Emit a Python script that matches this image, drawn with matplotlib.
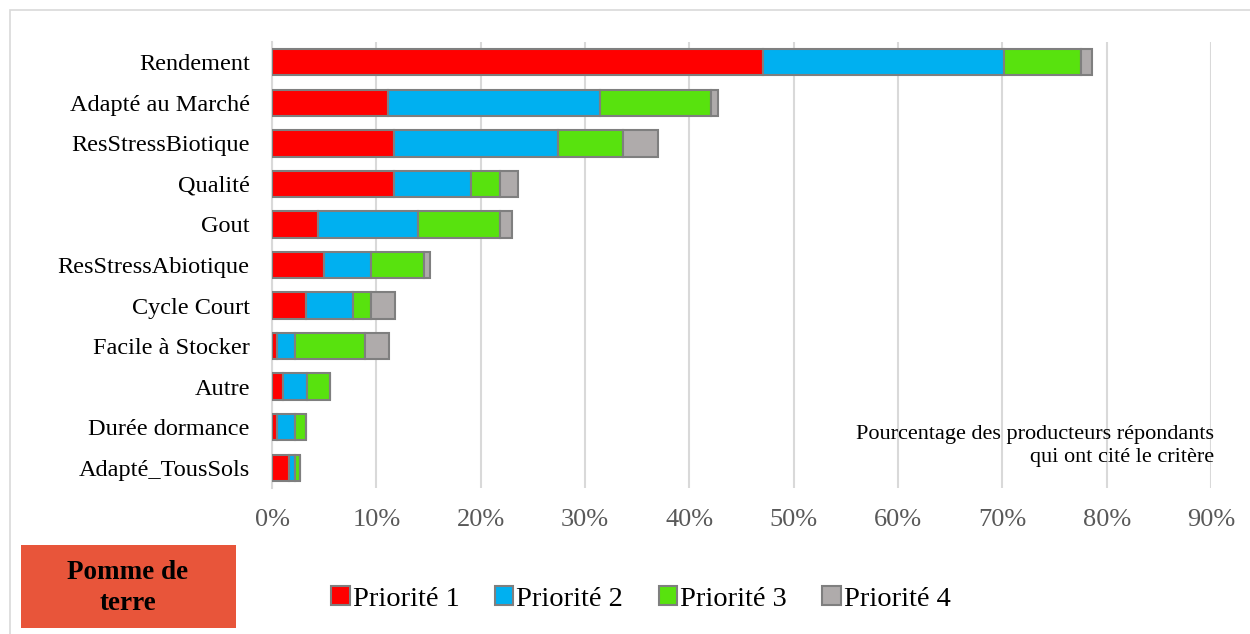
import matplotlib.pyplot as plt
from matplotlib.patches import Rectangle

plt.rcParams["font.family"] = ["Liberation Serif", "DejaVu Serif"]

criteres = ["Rendement", "Adapté au Marché", "ResStressBiotique", "Qualité", "Gout",
            "ResStressAbiotique", "Cycle Court", "Facile à Stocker", "Autre",
            "Durée dormance", "Adapté_TousSols"]
priorite1 = [47.1, 11.1, 11.7, 11.7, 4.4, 5.0, 3.3, 0.5, 1.1, 0.5, 1.6]
priorite2 = [23.1, 20.3, 15.7, 7.4, 9.6, 4.5, 4.5, 1.7, 2.3, 1.7, 0.6]
priorite3 = [7.3, 10.7, 6.2, 2.8, 7.9, 5.1, 1.7, 6.7, 2.2, 1.1, 0.5]
priorite4 = [1.1, 0.6, 3.4, 1.7, 1.1, 0.5, 2.3, 2.3, 0.0, 0.0, 0.0]
series = ["Priorité 1", "Priorité 2", "Priorité 3", "Priorité 4"]
couleurs = ["#FF0000", "#00B0F0", "#58E20E", "#AFABAB"]
xticks = list(range(0, 100, 10))

fig = plt.figure(figsize=(12.5, 6.34), dpi=100)
# cadre gris clair autour du graphique
fig.patches.append(Rectangle((10 / 1250, -0.05), 1.1, 1 - 10 / 634 + 0.05,
                             transform=fig.transFigure, fill=False,
                             edgecolor="#D9D9D9", linewidth=1.2))

ax = fig.add_axes([272 / 1250, 1 - 488 / 634, (1211 - 272) / 1250, 446 / 634])

y = list(range(len(criteres)))
left = [0.0] * len(criteres)
for vals, nom, c in zip([priorite1, priorite2, priorite3, priorite4], series, couleurs):
    ax.barh(y, vals, left=left, height=0.65, color=c, edgecolor="#7F7F7F",
            linewidth=1.5, label=nom, zorder=3)
    left = [a + b for a, b in zip(left, vals)]

ax.set_xlim(0, 90)
ax.set_ylim(len(criteres) - 0.5, -0.5)
ax.set_yticks(y)
ax.set_yticklabels(criteres, fontsize=17.5, color="black")
ax.set_xticks(xticks)
ax.set_xticklabels([f"{t}%" for t in xticks], fontsize=19, color="#595959")
ax.tick_params(axis="both", length=0)
ax.tick_params(axis="x", pad=15)
ax.tick_params(axis="y", pad=16)
ax.grid(axis="x", color="#D9D9D9", linewidth=1.5, zorder=0)
for s in ["top", "right", "bottom"]:
    ax.spines[s].set_visible(False)
ax.spines["left"].set_color("#D9D9D9")
ax.spines["left"].set_linewidth(1.5)

ax.text(1214 / 1250, 1 - 446 / 634, "Pourcentage des producteurs répondants\nqui ont cité le critère",
        transform=fig.transFigure, ha="right", va="center", fontsize=16,
        linespacing=1.32)

fig.patches.append(Rectangle((21 / 1250, 1 - 628 / 634), 215 / 1250, 83 / 634,
                             transform=fig.transFigure, facecolor="#E8553A",
                             edgecolor="none"))
fig.text(128 / 1250, 1 - 588 / 634, "Pomme de\nterre", ha="center", va="center",
         fontsize=19.5, fontweight="bold", linespacing=1.35)

fig.legend(loc="center", bbox_to_anchor=(641 / 1250, 1 - 599 / 634), ncol=4,
           frameon=False, fontsize=20.5, handlelength=0.65, handleheight=0.65,
           handletextpad=0.1, columnspacing=1.25)

fig.savefig("out.png", dpi=100)
